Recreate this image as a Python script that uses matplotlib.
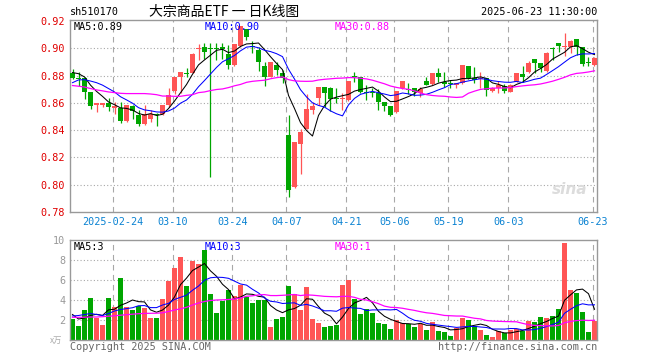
import numpy as np
import pandas as pd
import matplotlib
matplotlib.use('Agg')
import matplotlib.pyplot as plt

plt.rcParams['font.family'] = ['DejaVu Sans Mono', 'Noto Sans CJK SC']

# daily K-line data, 88 sessions 2025-02-13 .. 2025-06-23
opens = [0.8816, 0.8780, 0.8780, 0.8679, 0.8581, 0.8581, 0.8599, 0.8559, 0.8564, 0.8466,
         0.8576, 0.8510, 0.8447, 0.8479, 0.8518, 0.8518, 0.8584, 0.8689, 0.8792, 0.8818,
         0.8819, 0.8995, 0.9010, 0.8999, 0.8997, 0.9002, 0.8956, 0.8877, 0.9020, 0.9140,
         0.9015, 0.8988, 0.8870, 0.8792, 0.8875, 0.8816, 0.8363, 0.7983, 0.8297, 0.8407,
         0.8551, 0.8632, 0.8713, 0.8706, 0.8636, 0.8625, 0.8620, 0.8795, 0.8787, 0.8677,
         0.8679, 0.8670, 0.8603, 0.8576, 0.8535, 0.8706, 0.8703, 0.8711, 0.8674, 0.8760,
         0.8738, 0.8816, 0.8755, 0.8745, 0.8731, 0.8743, 0.8870, 0.8784, 0.8772, 0.8780,
         0.8689, 0.8706, 0.8723, 0.8681, 0.8755, 0.8811, 0.8824, 0.8922, 0.8895, 0.8836,
         0.8999, 0.9042, 0.9012, 0.9012, 0.9069, 0.9012, 0.8892, 0.8877]
highs = [0.8846, 0.8826, 0.8790, 0.8680, 0.8601, 0.8601, 0.8635, 0.8603, 0.8606, 0.8581,
         0.8581, 0.8547, 0.8584, 0.8547, 0.8528, 0.8584, 0.8706, 0.8792, 0.8826, 0.8853,
         0.8963, 0.9032, 0.9037, 0.9037, 0.9037, 0.9037, 0.9027, 0.9032, 0.9164, 0.9140,
         0.9056, 0.9012, 0.8897, 0.8902, 0.8902, 0.8840, 0.8510, 0.8311, 0.8412, 0.8664,
         0.8605, 0.8713, 0.8713, 0.8715, 0.8706, 0.8670, 0.8760, 0.8824, 0.8792, 0.8731,
         0.8706, 0.8699, 0.8603, 0.8576, 0.8687, 0.8760, 0.8748, 0.8711, 0.8714, 0.8792,
         0.8821, 0.8853, 0.8824, 0.8767, 0.8748, 0.8877, 0.8870, 0.8865, 0.8828, 0.8780,
         0.8718, 0.8762, 0.8735, 0.8738, 0.8821, 0.8870, 0.8909, 0.8922, 0.8895, 0.8975,
         0.9012, 0.9042, 0.9110, 0.9061, 0.9069, 0.9012, 0.8934, 0.8934]
lows = [0.8775, 0.8723, 0.8630, 0.8552, 0.8535, 0.8572, 0.8542, 0.8518, 0.8452, 0.8461,
        0.8483, 0.8432, 0.8439, 0.8459, 0.8432, 0.8511, 0.8571, 0.8662, 0.8670, 0.8787,
        0.8817, 0.8914, 0.8919, 0.8056, 0.8914, 0.8919, 0.8846, 0.8873, 0.9012, 0.9061,
        0.8963, 0.8836, 0.8725, 0.8787, 0.8804, 0.8743, 0.7909, 0.7978, 0.8081, 0.8407,
        0.8522, 0.8583, 0.8571, 0.8542, 0.8596, 0.8547, 0.8616, 0.8755, 0.8670, 0.8620,
        0.8640, 0.8547, 0.8542, 0.8503, 0.8528, 0.8699, 0.8665, 0.8650, 0.8645, 0.8731,
        0.8731, 0.8755, 0.8718, 0.8706, 0.8706, 0.8738, 0.8772, 0.8743, 0.8706, 0.8650,
        0.8681, 0.8674, 0.8674, 0.8676, 0.8750, 0.8755, 0.8816, 0.8816, 0.8828, 0.8828,
        0.8914, 0.8975, 0.8944, 0.8963, 0.8951, 0.8870, 0.8873, 0.8873]
closes = [0.8785, 0.8775, 0.8682, 0.8579, 0.8601, 0.8601, 0.8572, 0.8579, 0.8464, 0.8581,
          0.8542, 0.8447, 0.8518, 0.8518, 0.8513, 0.8584, 0.8657, 0.8792, 0.8824, 0.8814,
          0.8961, 0.9000, 0.8975, 0.8997, 0.8993, 0.8998, 0.8880, 0.9032, 0.9164, 0.9086,
          0.9010, 0.8902, 0.8792, 0.8902, 0.8841, 0.8780, 0.7958, 0.8311, 0.8385, 0.8554,
          0.8576, 0.8713, 0.8669, 0.8625, 0.8628, 0.8628, 0.8760, 0.8790, 0.8682, 0.8672,
          0.8675, 0.8608, 0.8579, 0.8510, 0.8687, 0.8760, 0.8696, 0.8682, 0.8701, 0.8731,
          0.8821, 0.8787, 0.8738, 0.8741, 0.8748, 0.8877, 0.8784, 0.8767, 0.8775, 0.8694,
          0.8711, 0.8730, 0.8689, 0.8730, 0.8816, 0.8792, 0.8895, 0.8895, 0.8858, 0.8963,
          0.8993, 0.9020, 0.9019, 0.9054, 0.9012, 0.8882, 0.8889, 0.8931]
volumes = [2.07, 1.43, 2.97, 4.23, 2.17, 1.47, 4.23, 3.30, 6.17, 3.33,
           2.97, 3.40, 3.17, 2.17, 2.17, 4.07, 5.87, 7.23, 8.33, 5.43,
           7.87, 7.60, 9.03, 4.63, 2.73, 3.87, 4.97, 4.40, 5.50, 4.30,
           3.67, 3.97, 3.97, 1.33, 2.07, 2.33, 5.37, 4.63, 2.97, 5.33,
           2.07, 1.73, 1.33, 1.43, 1.53, 5.47, 5.97, 4.13, 2.63, 3.13,
           2.73, 1.73, 1.63, 1.13, 2.03, 1.73, 1.63, 1.33, 1.63, 1.03,
           1.83, 0.93, 0.83, 0.43, 1.23, 2.23, 2.03, 1.43, 1.03, 0.53,
           0.33, 0.93, 0.73, 1.03, 1.13, 0.93, 1.93, 1.83, 2.33, 2.23,
           2.43, 3.13, 9.73, 5.03, 4.73, 2.83, 0.83, 1.93]

# moving-average values for the first sessions (their history is off the chart)
ma5_head = [0.8822, 0.8814, 0.8790, 0.8730]
ma10_head = [0.8748, 0.8768, 0.8770, 0.8760, 0.8748, 0.8730, 0.8705, 0.8680, 0.8645]
ma30_head = [0.8727, 0.8722, 0.8716, 0.8705, 0.8695, 0.8688, 0.8680, 0.8675, 0.8670, 0.8668,
             0.8668, 0.8668, 0.8668, 0.8665, 0.8660, 0.8650, 0.8650, 0.8648, 0.8648, 0.8655,
             0.8660, 0.8675, 0.8680, 0.8690, 0.8698, 0.8702, 0.8712, 0.8725, 0.8735]
vma5_head = [2.55, 2.10, 2.20, 2.45]
vma10_head = [2.40, 2.45, 2.55, 2.65, 2.55, 2.45, 2.65, 2.90, 3.05]
vma30_head = [2.27, 2.27, 2.28, 2.30, 2.30, 2.33, 2.38, 2.42, 2.48, 2.53,
              2.58, 2.63, 2.66, 2.67, 2.68, 2.72, 2.85, 3.00, 3.12, 3.27,
              3.50, 3.70, 3.85, 3.95, 4.00, 4.02, 4.05, 4.10, 4.20]

tick_idx = [7, 17, 27, 36, 46, 54, 63, 73, 87]
tick_labels = ['2025-02-24', '03-10', '03-24', '04-07', '04-21', '05-06', '05-19', '06-03', '06-23']
price_ticks = [0.78, 0.80, 0.82, 0.84, 0.86, 0.88, 0.90, 0.92]
vol_ticks = [2, 4, 6, 8, 10]

RED = '#ff5555'
GREEN = '#00a600'
GRID = '#a8a8a8'
FRAME = '#999999'


def with_head(values, window, head):
    ma = pd.Series(values).rolling(window).mean().to_numpy()
    ma[:len(head)] = head
    return ma


o = np.array(opens)
h = np.array(highs)
l = np.array(lows)
c = np.array(closes)
v = np.array(volumes)
x = np.arange(len(c))
up = c >= o
colors = np.where(up, RED, GREEN)

ma5 = with_head(c, 5, ma5_head)
ma10 = with_head(c, 10, ma10_head)
ma30 = with_head(c, 30, ma30_head)
vma5 = with_head(v, 5, vma5_head)
vma10 = with_head(v, 10, vma10_head)
vma30 = with_head(v, 30, vma30_head)

W, H = 660, 360
fig = plt.figure(figsize=(6.6, 3.6), dpi=100)
ax = fig.add_axes([70 / W, 1 - 212 / H, 527 / W, 192 / H])
axv = fig.add_axes([70 / W, 1 - 340 / H, 527 / W, 100 / H])

xlim = (-2.5 / 6, 524.5 / 6)
grid_x = [i - 2 / 6 for i in tick_idx]

# price panel
for y in price_ticks[1:-1]:
    ax.axhline(y, color=GRID, lw=0.8, ls=(0, (1, 2)), zorder=0)
for gx in grid_x:
    ax.axvline(gx, color=GRID, lw=0.8, ls=(0, (5, 4)), zorder=0)

ax.vlines(x, l, h, colors=colors, lw=0.9, zorder=2)
body = np.maximum(np.abs(c - o), 0.0008)
ax.bar(x, body, bottom=np.minimum(o, c), width=5 / 6, color=colors, lw=0, zorder=3)

ax.plot(x, ma5, color='black', lw=0.75, zorder=4)
ax.plot(x, ma10, color='#0000ff', lw=0.75, zorder=4)
ax.plot(x, ma30, color='#ff00ff', lw=0.9, zorder=4)

ax.set_xlim(*xlim)
ax.set_ylim(0.78, 0.92 + 1 / 1360)
ax.set_yticks(price_ticks)
ax.set_yticklabels([f'{t:.2f}' for t in price_ticks], color='#e00000', fontsize=7.3)
ax.set_xticks(grid_x)
ax.set_xticklabels(tick_labels, color='#0a82d2', fontsize=7.3)
ax.tick_params(length=0, pad=3.5)

# volume panel
for y in vol_ticks[:-1]:
    axv.axhline(y, color=GRID, lw=0.8, ls=(0, (1, 2)), zorder=0)
for gx in grid_x:
    axv.axvline(gx, color=GRID, lw=0.8, ls=(0, (5, 4)), zorder=0)

axv.bar(x, v, width=5 / 6, color=colors, lw=0, zorder=2)
axv.plot(x, vma5, color='black', lw=0.75, zorder=4)
axv.plot(x, vma10, color='#0000ff', lw=0.75, zorder=4)
axv.plot(x, vma30, color='#ff00ff', lw=0.9, zorder=4)

axv.set_xlim(*xlim)
axv.set_ylim(0, 10)
axv.set_yticks(vol_ticks)
axv.set_yticklabels([str(t) for t in vol_ticks], color='#999999', fontsize=7.3)
axv.set_xticks([])
axv.tick_params(length=0, pad=3.5)

for a in (ax, axv):
    for s in a.spines.values():
        s.set_color(FRAME)
        s.set_linewidth(1.0)


def label(px, py, s, **kw):
    kw.setdefault('va', 'center')
    kw.setdefault('fontsize', 7.3)
    fig.text(px / W, 1 - py / H, s, **kw)


label(70, 12, 'sh510170', color='black')
label(149, 12, '大宗商品ETF 一 日K线图', color='black', fontsize=10,
      family=['Noto Sans CJK SC', 'DejaVu Sans'])
label(597, 12, '2025-06-23 11:30:00', color='black', ha='right')

label(74, 27, 'MA5:0.89', color='black')
label(205, 27, 'MA10:0.90', color='#0000ff')
label(335, 27, 'MA30:0.88', color='#ff00ff')

label(74, 247, 'MA5:3', color='black')
label(205, 247, 'MA10:3', color='#0000ff')
label(335, 247, 'MA30:1', color='#ff00ff')

label(50, 340, 'x万', color='#aaaaaa', fontsize=6, family=['Noto Sans CJK SC', 'DejaVu Sans'])
label(70, 347, 'Copyright 2025 SINA.COM', color='#666666')
label(597, 347, 'http://finance.sina.com.cn', color='#666666', ha='right')

# faint sina watermark
label(570, 190, 'sina', color='#dcdcdc', fontsize=11, ha='center', style='italic',
      weight='bold', family='DejaVu Sans')

fig.savefig('out.png', dpi=100)
